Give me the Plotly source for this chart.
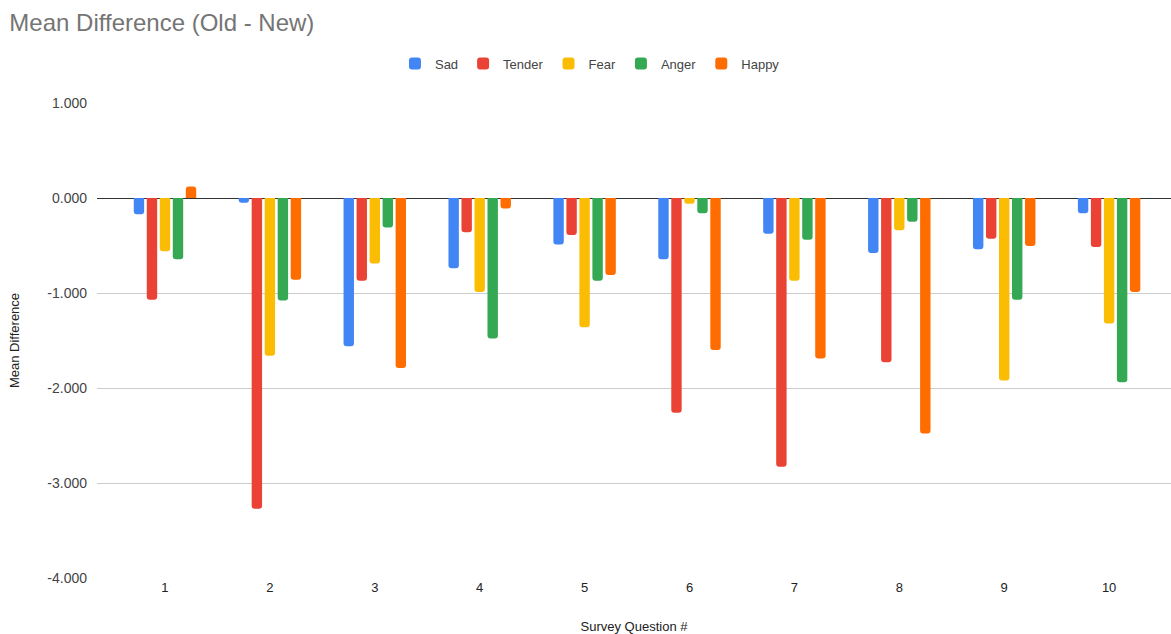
import plotly.graph_objects as go

questions = [1, 2, 3, 4, 5, 6, 7, 8, 9, 10]
sad = [-0.17, -0.05, -1.56, -0.74, -0.49, -0.645, -0.375, -0.58, -0.54, -0.16]
tender = [-1.07, -3.27, -0.87, -0.36, -0.39, -2.26, -2.83, -1.73, -0.43, -0.515]
fear = [-0.56, -1.66, -0.69, -0.99, -1.36, -0.06, -0.87, -0.34, -1.92, -1.32]
anger = [-0.645, -1.08, -0.31, -1.48, -0.87, -0.16, -0.44, -0.25, -1.07, -1.94]
happy = [0.12, -0.86, -1.79, -0.11, -0.81, -1.60, -1.69, -2.48, -0.505, -0.99]

y_ticks = [1, 0, -1, -2, -3, -4]
y_tick_labels = ["1.000", "0.000", "-1.000", "-2.000", "-3.000", "-4.000"]

series = [
    ("Sad", sad, "#4285F4"),
    ("Tender", tender, "#EA4335"),
    ("Fear", fear, "#FBBC04"),
    ("Anger", anger, "#34A853"),
    ("Happy", happy, "#FF6D01"),
]

fig = go.Figure()
for name, vals, color in series:
    fig.add_trace(go.Bar(x=questions, y=vals, name=name, marker_color=color,
                         marker_line_width=0))

font_family = "Liberation Sans, Arial, sans-serif"
fig.update_layout(
    width=1171, height=634,
    margin=dict(l=97, r=0, t=103, b=56),
    paper_bgcolor="white", plot_bgcolor="white",
    font=dict(family=font_family, size=13, color="#444444"),
    title=dict(text="Mean Difference (Old - New)", x=0.008, xanchor="left",
               y=0.965, yanchor="middle",
               font=dict(size=24, color="#757575", family=font_family)),
    barmode="group", bargap=0.38, bargroupgap=0.2, barcornerradius=3,
    legend=dict(orientation="h", x=0.459, xanchor="center", y=1.083,
                yanchor="middle", font=dict(size=13, color="#444444"),
                itemwidth=30, traceorder="normal"),
    xaxis=dict(range=[0.352, 10.59], tickmode="array", tickvals=questions,
               ticktext=[str(q) for q in questions], showgrid=False,
               zeroline=False, showline=False, ticks="",
               tickfont=dict(size=13, color="#222222"),
               title=dict(text="Survey Question #", standoff=28,
                          font=dict(size=13, color="#222222"))),
    yaxis=dict(range=[-4, 1], tickmode="array", tickvals=y_ticks,
               ticktext=y_tick_labels, gridcolor="#CCCCCC", gridwidth=1,
               zeroline=True, zerolinecolor="#333333", zerolinewidth=1,
               tickfont=dict(size=14, color="#444444"), ticks="",
               ticklen=0, ticklabelstandoff=9, automargin=False,
               title=dict(text="Mean Difference", standoff=24,
                          font=dict(size=13, color="#222222"))),
)

fig.write_html("out.html")
